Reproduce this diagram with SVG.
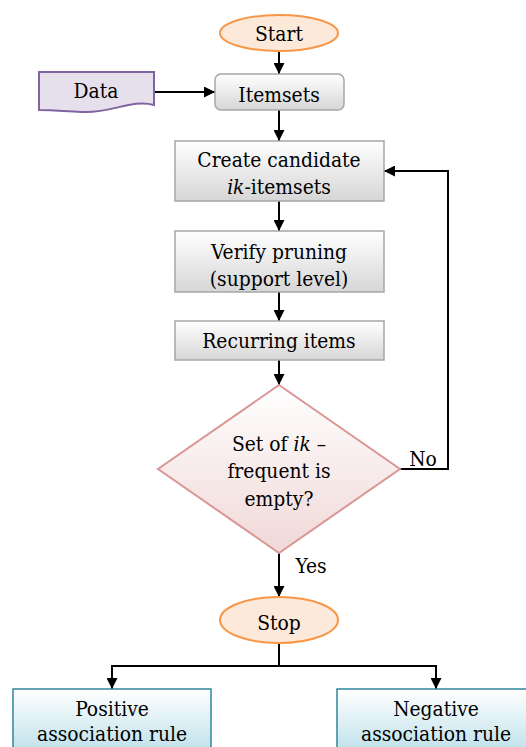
<svg xmlns="http://www.w3.org/2000/svg" width="526" height="747" viewBox="0 0 526 747">
<style>
text{font-family:'DejaVu Serif Condensed','DejaVu Serif','Liberation Serif',serif;font-stretch:condensed;font-size:20.8px;fill:#000;text-anchor:middle}
.it{font-style:italic}
.box{fill:url(#gGray);stroke:#a6a6a6;stroke-width:1.5}
.term{fill:#fde9d9;stroke:#f79646;stroke-width:2}
.out{fill:url(#gBlue);stroke:#31859c;stroke-width:1.5}
.ln{fill:none;stroke:#000;stroke-width:2}
</style>
<defs>
<linearGradient id="gGray" x1="0" y1="0" x2="0" y2="1"><stop offset="0" stop-color="#ffffff"/><stop offset="1" stop-color="#d6d6d6"/></linearGradient>
<linearGradient id="gBlue" x1="0" y1="0" x2="0" y2="1"><stop offset="0" stop-color="#ffffff"/><stop offset="1" stop-color="#b7dee8"/></linearGradient>
<linearGradient id="gRed" x1="0" y1="0" x2="0" y2="1"><stop offset="0" stop-color="#ffffff"/><stop offset="1" stop-color="#f0d8d7"/></linearGradient>
<marker id="ah" viewBox="0 0 10 10" refX="10" refY="5" markerWidth="5.5" markerHeight="5.5" orient="auto" markerUnits="strokeWidth"><path d="M0,0 L10,5 L0,10 Z" fill="#000"/></marker>
</defs>
<g id="connectors">
<path class="ln" d="M279,51 V74" marker-end="url(#ah)"/>
<path class="ln" d="M154,92 H215" marker-end="url(#ah)"/>
<path class="ln" d="M279,110 V141" marker-end="url(#ah)"/>
<path class="ln" d="M279,201 V231" marker-end="url(#ah)"/>
<path class="ln" d="M279,292 V321" marker-end="url(#ah)"/>
<path class="ln" d="M279,360 V385" marker-end="url(#ah)"/>
<path class="ln" d="M400,469 H448 V171 H384" marker-end="url(#ah)"/>
<path class="ln" d="M279,553 V597" marker-end="url(#ah)"/>
<path class="ln" d="M279,643 V666 H112 V689" marker-end="url(#ah)"/>
<path class="ln" d="M279,666 H436 V689" marker-end="url(#ah)"/>
<text x="423" y="466">No</text>
<text x="311" y="573">Yes</text>
</g>
<g id="start"><ellipse class="term" cx="279" cy="33" rx="59" ry="18"/><text x="279" y="41">Start</text></g>
<g id="data"><path d="M39,72 H154 V105 C132,99 112,113 84,112 C64,111 50,110 39,110 Z" fill="#e5e0ec" stroke="#8064a2" stroke-width="2"/><text x="96" y="98">Data</text></g>
<g id="itemsets"><rect class="box" x="215" y="74" width="129" height="36" rx="6"/><text x="279" y="102">Itemsets</text></g>
<g id="create"><rect class="box" x="175" y="141" width="209" height="60"/><text x="279" y="167">Create candidate</text><text x="279" y="194"><tspan class="it">ik</tspan>-itemsets</text></g>
<g id="verify"><rect class="box" x="175" y="231" width="209" height="61"/><text x="279" y="259">Verify pruning</text><text x="279" y="286">(support level)</text></g>
<g id="recurring"><rect class="box" x="175" y="321" width="209" height="39"/><text x="279" y="348">Recurring items</text></g>
<g id="decision"><path d="M279,385 L400,469 L279,553 L158,469 Z" fill="url(#gRed)" stroke="#d99694" stroke-width="2"/><text x="279" y="451">Set of <tspan class="it">ik</tspan> –</text><text x="279" y="478">frequent is</text><text x="279" y="506">empty?</text></g>
<g id="stop"><ellipse class="term" cx="279" cy="620" rx="59" ry="23"/><text x="279" y="630">Stop</text></g>
<g id="positive"><rect class="out" x="13" y="689" width="198" height="70"/><text x="112" y="716">Positive</text><text x="112" y="741">association rule</text></g>
<g id="negative"><rect class="out" x="337" y="689" width="198" height="70"/><text x="436" y="716">Negative</text><text x="436" y="741">association rule</text></g>
</svg>
